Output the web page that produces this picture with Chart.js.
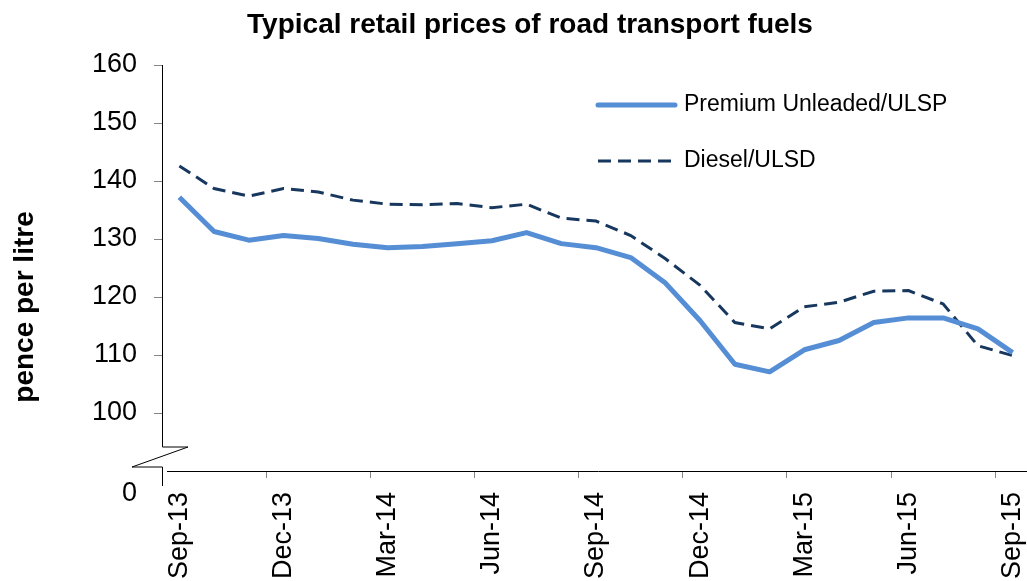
<!DOCTYPE html>
<html>
<head>
<meta charset="utf-8">
<script src="https://cdn.jsdelivr.net/npm/chart.js@4.4.1/dist/chart.umd.min.js"></script>
<style>
  html, body { margin: 0; padding: 0; background: #fff; overflow: hidden; }
  #wrap { position: relative; width: 1032px; height: 581px; }
</style>
</head>
<body>
<div id="wrap"><canvas id="chart-fuel"></canvas></div>
<script>
// ─── DATA ────────────────────────────────────────────────────
const MONTHS = [
  'Sep-13', 'Oct-13', 'Nov-13', 'Dec-13', 'Jan-14', 'Feb-14', 'Mar-14',
  'Apr-14', 'May-14', 'Jun-14', 'Jul-14', 'Aug-14', 'Sep-14', 'Oct-14',
  'Nov-14', 'Dec-14', 'Jan-15', 'Feb-15', 'Mar-15', 'Apr-15', 'May-15',
  'Jun-15', 'Jul-15', 'Aug-15', 'Sep-15'
];
const PREMIUM = [
  137.2, 131.3, 129.8, 130.6, 130.1, 129.1, 128.5, 128.7, 129.2, 129.7,
  131.1, 129.2, 128.5, 126.8, 122.4, 115.9, 108.4, 107.1, 110.9, 112.5,
  115.6, 116.4, 116.4, 114.5, 110.4
];
const DIESEL = [
  142.6, 138.7, 137.4, 138.7, 138.1, 136.7, 136.0, 135.9, 136.1, 135.4,
  136.0, 133.6, 133.1, 130.6, 126.6, 122.0, 115.6, 114.5, 118.3, 119.1,
  121.0, 121.1, 118.8, 111.6, 109.9
];
const Y_TICKS = [100, 110, 120, 130, 140, 150, 160];

const TITLE = 'Typical retail prices of road transport fuels';
const Y_TITLE = 'pence per litre';
const FONT = "'Liberation Sans', Arial, sans-serif";
const TICK_GREY = '#868686';

// ─── EXTRAS: title, axis break, legend ───────────────────────
const extras = {
  id: 'extras',
  afterDraw(chart) {
    const { ctx, chartArea: a } = chart;
    const ax = a.left + 0.5;
    ctx.save();

    // title
    ctx.fillStyle = '#000';
    ctx.font = 'bold 28px ' + FONT;
    ctx.textAlign = 'center';
    ctx.textBaseline = 'middle';
    ctx.fillText(TITLE, 530, 25);

    // y title
    ctx.save();
    ctx.translate(25, 307);
    ctx.rotate(-Math.PI / 2);
    ctx.font = 'bold 28px ' + FONT;
    ctx.fillText(Y_TITLE, 0, 0);
    ctx.restore();

    // y axis with break
    ctx.strokeStyle = '#000';
    ctx.lineWidth = 1;
    ctx.beginPath();
    ctx.moveTo(ax, a.top);
    ctx.lineTo(ax, 447);
    ctx.lineTo(188, 447);
    ctx.lineTo(132, 467);
    ctx.lineTo(ax, 467);
    ctx.lineTo(ax, 486);
    ctx.stroke();

    // x axis line
    ctx.beginPath();
    ctx.moveTo(167, a.bottom + 0.5);
    ctx.lineTo(a.right, a.bottom + 0.5);
    ctx.stroke();

    // zero label below the break
    ctx.font = '27px ' + FONT;
    ctx.textAlign = 'right';
    ctx.fillText('0', 137, 494);

    // legend
    chart.data.datasets.forEach((ds, i) => {
      const y = 105 + i * 56;
      ctx.strokeStyle = ds.borderColor;
      ctx.lineWidth = ds.borderWidth;
      ctx.lineCap = ds.borderDash ? 'butt' : 'round';
      ctx.setLineDash(ds.borderDash || []);
      ctx.beginPath();
      ctx.moveTo(598, y);
      ctx.lineTo(675, y);
      ctx.stroke();
      ctx.setLineDash([]);
      ctx.fillStyle = '#000';
      ctx.font = '23px ' + FONT;
      ctx.textAlign = 'left';
      ctx.fillText(ds.label, 684, y);
    });
    ctx.restore();
  }
};

// ─── CHART ───────────────────────────────────────────────────
new Chart(document.getElementById('chart-fuel'), {
  type: 'line',
  data: {
    labels: MONTHS,
    datasets: [
      {
        label: 'Premium Unleaded/ULSP',
        data: PREMIUM,
        borderColor: '#558ED5',
        borderWidth: 5,
        pointRadius: 0,
        tension: 0,
        borderJoinStyle: 'round',
      },
      {
        label: 'Diesel/ULSD',
        data: DIESEL,
        borderColor: '#17375E',
        borderWidth: 3,
        borderDash: [13, 7],
        pointRadius: 0,
        tension: 0,
      }
    ]
  },
  options: {
    responsive: true,
    maintainAspectRatio: false,
    animation: false,
    layout: { padding: { top: 65, right: 2, left: 0, bottom: 0 } },
    plugins: {
      legend: { display: false },
      title: { display: false },
      tooltip: { enabled: false },
    },
    scales: {
      x: {
        offset: true,
        border: { display: false },
        grid: {
          offset: true,
          drawOnChartArea: false,
          tickLength: 7,
          tickColor: c => (c.index > 0 && c.index % 3 === 0) ? TICK_GREY : 'rgba(0,0,0,0)',
        },
        ticks: {
          autoSkip: false,
          minRotation: 90,
          maxRotation: 90,
          padding: 14,
          color: '#000',
          font: { family: FONT, size: 27 },
          callback: (v, i) => i % 3 === 0 ? MONTHS[i] : '',
        },
        afterFit: s => { s.height = 110; s.paddingLeft = 0; s.paddingRight = 0; },
      },
      y: {
        min: 90,
        max: 160,
        border: { display: false },
        grid: {
          drawOnChartArea: false,
          tickLength: 8,
          tickColor: c => Y_TICKS.includes(c.tick.value) ? TICK_GREY : 'rgba(0,0,0,0)',
        },
        ticks: {
          stepSize: 10,
          padding: 17,
          color: '#000',
          font: { family: FONT, size: 27 },
          callback: v => Y_TICKS.includes(v) ? v : '',
        },
        afterFit: s => { s.width = 162; s.paddingTop = 0; s.paddingBottom = 0; },
      }
    }
  },
  plugins: [extras]
});
</script>
</body>
</html>
